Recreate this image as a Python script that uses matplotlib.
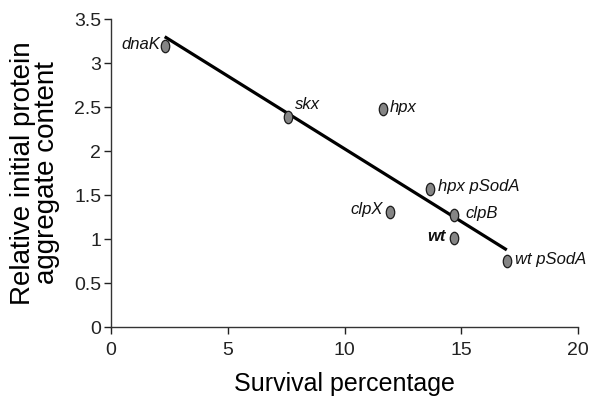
import matplotlib
matplotlib.use('Agg')
import matplotlib.pyplot as plt
from matplotlib.path import Path
from matplotlib.transforms import Affine2D
import numpy as np

plt.rcParams['font.family'] = ['Liberation Sans', 'DejaVu Sans']

# stammer: overlevelse (%) og relativt aggregatinnhold
strains = ['dnaK', 'skx', 'hpx', 'hpx pSodA', 'clpX', 'clpB', 'wt', 'wt pSodA']
survival = [2.3, 7.6, 11.65, 13.65, 11.95, 14.7, 14.7, 16.95]
aggregate = [3.19, 2.39, 2.48, 1.57, 1.31, 1.27, 1.01, 0.75]

# etikett-forskyvning i punkter (dx, dy) og justering
offsets = [(-3, 1), (4.5, 9), (5, 1), (6, 1.5), (-5, 1.5), (8, 1.5), (-6, 1), (6, 1)]
aligns = ['right', 'left', 'left', 'left', 'right', 'left', 'right', 'left']

xticks = [0, 5, 10, 15, 20]
yticks = [0, 0.5, 1, 1.5, 2, 2.5, 3, 3.5]
ytick_labels = ['0', '0.5', '1', '1.5', '2', '2.5', '3', '3.5']

fig = plt.figure(figsize=(5.96, 4), dpi=100)
ax = fig.add_axes([111 / 596, 1 - 327 / 400, (578 - 111) / 596, (327 - 19) / 400])

# regresjonslinje
k, m = np.polyfit(survival, aggregate, 1)
xl = np.array([min(survival), max(survival)])
ax.plot(xl, k * xl + m, color='black', linewidth=2.3, zorder=2, solid_capstyle='butt')

ellipse = Path.unit_circle().transformed(Affine2D().scale(0.68, 1.0))
ax.scatter(survival, aggregate, marker=ellipse, s=80, facecolor='#858585',
           edgecolor='#1a1a1a', linewidth=0.9, zorder=3)

for name, x, y, off, ha in zip(strains, survival, aggregate, offsets, aligns):
    weight = 'bold' if name == 'wt' else 'normal'
    ax.annotate(name, (x, y), xytext=off, textcoords='offset points',
                ha=ha, va='center', fontsize=12, style='italic', fontweight=weight,
                color='#111111')

ax.set_xlim(0, 20)
ax.set_ylim(0, 3.5)
ax.set_xticks(xticks)
ax.set_yticks(yticks)
ax.set_yticklabels(ytick_labels)
ax.tick_params(axis='both', labelsize=14, length=5, width=1, colors='#222222', direction='out')
ax.tick_params(axis='x', pad=6)
ax.tick_params(axis='y', pad=2)
for s in ['top', 'right']:
    ax.spines[s].set_visible(False)
for s in ['left', 'bottom']:
    ax.spines[s].set_color('#333333')
    ax.spines[s].set_linewidth(1)

ax.set_xlabel('Survival percentage', fontsize=18, labelpad=9)
ax.set_ylabel('Relative initial protein\naggregate content', fontsize=20,
              labelpad=10, linespacing=0.9)

plt.savefig('out.png')
